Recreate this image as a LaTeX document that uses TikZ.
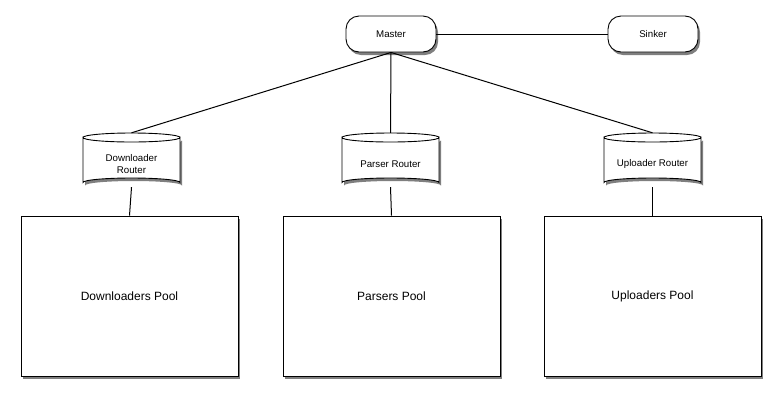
\documentclass[tikz,border=0pt]{standalone}
\usepackage{fontspec}
\setmainfont{Liberation Sans}
\usetikzlibrary{shadows}
\begin{document}
\begin{tikzpicture}[x=1pt,y=-1pt,
  shd/.style={drop shadow={shadow xshift=2pt,shadow yshift=-3pt,opacity=0.5,fill=black}},
  pill/.style={draw,line width=0.9pt,fill=white,rounded corners=13pt,minimum width=90pt,minimum height=36pt,inner sep=0pt,font=\fontsize{9.7}{11}\selectfont,shd},
  pool/.style={draw,line width=0.9pt,fill=white,minimum width=217pt,minimum height=160pt,inner sep=0pt,font=\fontsize{12}{14}\selectfont,shd},
  rbox/.style={minimum width=97pt,minimum height=54pt,inner sep=0pt,align=center,font=\fontsize{9.7}{11.5}\selectfont},
  link/.style={draw,line width=1pt}]
\useasboundingbox (0,0) rectangle (781,400);
\fill[white] (0,0) rectangle (781,400);
% master and sinker
\node[pill] (master) at (391,34) {Master};
\node[pill] (sinker) at (653,34) {Sinker};
% routers: cylinders drawn directly, labels as named nodes
\newcommand{\cyl}[1]{%
  \path[draw,fill=white,shd,line width=0.9pt] (#1-48.5,137.5) -- (#1-48.5,182.5)
    arc[start angle=180,end angle=0,x radius=48.5pt,y radius=4.5pt]
    -- (#1+48.5,137.5)
    arc[start angle=0,end angle=-180,x radius=48.5pt,y radius=4.5pt] -- cycle;
  \draw[line width=0.9pt] (#1-48.5,137.5)
    arc[start angle=180,end angle=0,x radius=48.5pt,y radius=4.5pt];
}
\cyl{131.5}\cyl{390.5}\cyl{652.5}
\node[rbox] (dr) at (131.5,160) {};
\node[rbox] (pr) at (390.5,160) {};
\node[rbox] (ur) at (652.5,160) {};
\node[rbox] at (131.5,164) {Downloader\\Router};
\node[rbox] at (390.5,164) {Parser Router};
\node[rbox] at (652.5,164) {Uploader Router};
% pools
\node[pool] (dp) at (129.5,296) {Downloaders Pool};
\node[pool] (pp) at (391.5,296) {Parsers Pool};
\node[pool] (up) at (652.5,296) {Uploaders Pool};
% connectors
\draw[link] (master) -- (sinker);
\draw[link] (master.south) -- (dr.north);
\draw[link] (master.south) -- (pr.north);
\draw[link] (master.south) -- (ur.north);
\draw[link] (dr.south) -- (dp.north);
\draw[link] (pr.south) -- (pp.north);
\draw[link] (ur.south) -- (up.north);
\end{tikzpicture}
\end{document}
